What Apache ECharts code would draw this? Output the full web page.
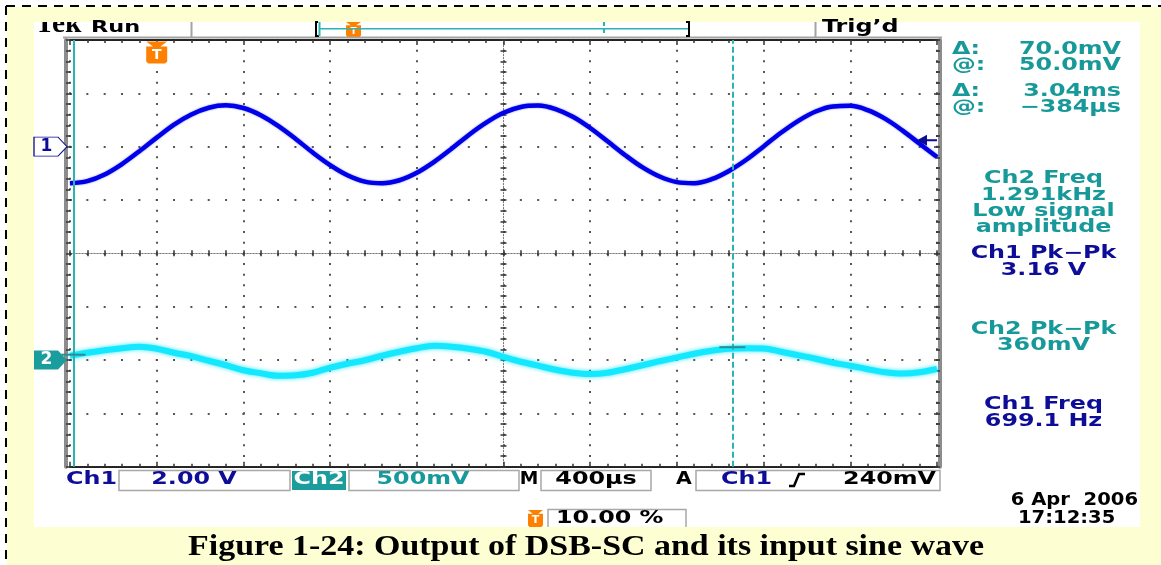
<!DOCTYPE html>
<html>
<head>
<meta charset="utf-8">
<script src="https://cdn.jsdelivr.net/npm/echarts@6/dist/echarts.min.js"></script>
<style>
  html, body { margin: 0; padding: 0; background: #ffffff; }
  #main { width: 1161px; height: 565px; }
</style>
</head>
<body>
<div id="main"></div>
<script>
// Sample instants of the acquisition, in microseconds (400 µs/div, trigger at 10 %)
const timeUs = [-400, -320, -240, -160, -80, 0, 80, 160, 240, 320, 400, 480, 560, 640, 720, 800,
  880, 960, 1040, 1120, 1200, 1280, 1360, 1440, 1520, 1600, 1680, 1760, 1840, 1920, 2000, 2080,
  2160, 2240, 2320, 2400, 2480, 2560, 2640, 2720, 2800, 2880, 2960, 3040, 3120, 3200, 3280, 3360,
  3440, 3520, 3600];

// Ch1: input sine wave, volts (2.00 V/div)
const ch1Volts = [-1.37, -1.29, -1.04, -0.65, -0.17, 0.34, 0.83, 1.21, 1.46, 1.55, 1.45, 1.18,
  0.78, 0.30, -0.22, -0.69, -1.07, -1.31, -1.37, -1.26, -0.98, -0.57, -0.08, 0.44, 0.90, 1.27,
  1.49, 1.54, 1.41, 1.12, 0.70, 0.20, -0.31, -0.77, -1.12, -1.33, -1.37, -1.22, -0.91, -0.49,
  0.01, 0.52, 0.97, 1.32, 1.51, 1.53, 1.37, 1.05, 0.61, 0.11, -0.39];

// Ch2: DSB-SC output, volts (500 mV/div)
const ch2Volts = [0.040, 0.068, 0.092, 0.111, 0.125, 0.106, 0.068, 0.036, -0.007, -0.049, -0.096,
  -0.124, -0.147, -0.143, -0.119, -0.072, -0.035, -0.002, 0.040, 0.078, 0.111, 0.134, 0.125, 0.106,
  0.078, 0.030, -0.016, -0.053, -0.091, -0.119, -0.131, -0.119, -0.086, -0.049, -0.011, 0.024,
  0.059, 0.087, 0.106, 0.111, 0.109, 0.078, 0.045, 0.012, -0.025, -0.053, -0.086, -0.114, -0.126,
  -0.114, -0.084];

// Paired cursors: start time and span, plus the Ch2 levels they read
const cursorStartUs = -384;
const cursorSpanUs = 3040;
const cursorStartV = 0.050;
const cursorDeltaV = 0.070;
const triggerLevelV = 0.240;

// Automatic measurements shown in the side panel
const measureLines = [
  { text: 'Ch2 Freq', ch: 2 }, { text: '1.291kHz', ch: 2 }, { text: 'Low signal', ch: 2 },
  { text: 'amplitude', ch: 2 }, { text: 'Ch1 Pk\u2212Pk', ch: 1 }, { text: '3.16 V', ch: 1 },
  { text: 'Ch2 Pk\u2212Pk', ch: 2 }, { text: '360mV', ch: 2 }, { text: 'Ch1 Freq', ch: 1 },
  { text: '699.1 Hz', ch: 1 }
];
const measureRows = [178.5, 196, 212, 228, 254, 270.5, 329.5, 345.5, 405, 422];

// Vertical / horizontal settings
const ch1Scale = '2.00 V';
const ch2Scale = '500mV';
const timeScale = '400\u00b5s';
const triggerSource = 'Ch1';
const triggerLevelText = (triggerLevelV * 1000).toFixed(0) + 'mV';
const triggerPosText = '10.00 %';
const stampDate = '6 Apr  2006';
const stampTime = '17:12:35';
const captionText = 'Figure 1-24: Output of DSB-SC and its input sine wave';

const NAVY = '#0d0d98';
const TEAL = '#17999a';
const TEAL_FILL = '#1c9d9d';
const CURSOR = '#2ab4b4';
const ORANGE = '#ff8000';
const SCOPE_FONT = '"DejaVu Sans", Verdana, sans-serif';

const cursorEndUs = cursorStartUs + cursorSpanUs;
const cursorEndV = cursorStartV + cursorDeltaV;

function pairs(xs, ys) {
  return xs.map(function (x, i) { return [x, ys[i]]; });
}

function fmtMv(v) { return (v * 1000).toFixed(1) + 'mV'; }
function fmtTime(us) {
  if (Math.abs(us) >= 1000) return (us / 1000).toFixed(2) + 'ms';
  return (us < 0 ? '\u2212' : '') + Math.abs(us).toFixed(0) + '\u00b5s';
}

// scope-style lettering, stretched horizontally like the display font
function scopeText(x, y, text, fill, opt) {
  opt = opt || {};
  return {
    type: 'text', x: x, y: y, scaleX: opt.sx || 1.4, z: opt.z || 20, silent: true,
    style: {
      text: text, fill: fill,
      fontFamily: opt.family || SCOPE_FONT,
      fontWeight: opt.weight || 'bold',
      fontSize: opt.size || 17,
      align: opt.align || 'left',
      verticalAlign: 'middle'
    }
  };
}

// small orange "T" trigger badge
function triggerBadge(cx, top, w, h) {
  return {
    type: 'group', x: cx - w / 2, y: top, z: 20, silent: true,
    children: [
      { type: 'polygon', shape: { points: [[0, 0], [w, 0], [w * 0.68, h * 0.22], [w, h * 0.22], [w, h * 0.9],
        [w * 0.9, h], [w * 0.1, h], [0, h * 0.9], [0, h * 0.22], [w * 0.32, h * 0.22]] },
        style: { fill: ORANGE } },
      { type: 'text', x: w / 2, y: h * 0.62, style: { text: 'T', fill: '#ffffff', fontFamily: SCOPE_FONT,
        fontWeight: 'bold', fontSize: Math.round(h * 0.62), align: 'center', verticalAlign: 'middle' } }
    ]
  };
}

const graphics = [];
// page, frame and screen
graphics.push({ type: 'rect', z: -20, silent: true, shape: { x: 7, y: 7, width: 1154, height: 558 }, style: { fill: '#fefed3' } });
graphics.push({ type: 'rect', z: -19, silent: true, shape: { x: 34, y: 22, width: 1106, height: 505 }, style: { fill: '#ffffff' } });
graphics.push(scopeText(35, 25, 'Tek', '#000000', { family: '"Liberation Serif", serif', size: 28, sx: 1.05, z: -18 }));
graphics.push({ type: 'rect', z: -17, silent: true, shape: { x: 34, y: 7, width: 1106, height: 15 }, style: { fill: '#fefed3' } });
graphics.push({ type: 'line', z: 30, silent: true, shape: { x1: 6, y1: 6, x2: 6, y2: 565 }, style: { stroke: '#000', lineWidth: 2, lineDash: [9, 7] } });
graphics.push({ type: 'line', z: 30, silent: true, shape: { x1: 6, y1: 6, x2: 1161, y2: 6 }, style: { stroke: '#000', lineWidth: 2, lineDash: [9, 7] } });

// status bar
graphics.push({ type: 'line', z: 5, silent: true, shape: { x1: 63, y1: 37.5, x2: 942, y2: 37.5 }, style: { stroke: '#a3a3a3', lineWidth: 2 } });
graphics.push({ type: 'line', z: 5, silent: true, shape: { x1: 191.5, y1: 22, x2: 191.5, y2: 38 }, style: { stroke: '#a3a3a3', lineWidth: 2 } });
graphics.push({ type: 'line', z: 5, silent: true, shape: { x1: 815.5, y1: 22, x2: 815.5, y2: 38 }, style: { stroke: '#a3a3a3', lineWidth: 2 } });
graphics.push(scopeText(91, 28, 'Run', '#000000', { size: 16 }));
graphics.push(scopeText(822, 28, 'Trig\u2019d', '#000000', { size: 17 }));
// record view bracket
graphics.push({ type: 'polyline', z: 6, silent: true, shape: { points: [[318, 22], [316, 22], [316, 36], [319, 36]] }, style: { stroke: '#000', lineWidth: 2, fill: null } });
graphics.push({ type: 'polyline', z: 6, silent: true, shape: { points: [[686, 22], [689, 22], [689, 36], [686, 36]] }, style: { stroke: '#000', lineWidth: 2, fill: null } });
graphics.push({ type: 'line', z: 6, silent: true, shape: { x1: 319.5, y1: 22, x2: 319.5, y2: 36 }, style: { stroke: CURSOR, lineWidth: 2 } });
graphics.push({ type: 'line', z: 6, silent: true, shape: { x1: 320, y1: 28.8, x2: 688, y2: 28.8 }, style: { stroke: CURSOR, lineWidth: 1.5 } });
graphics.push({ type: 'line', z: 6, silent: true, shape: { x1: 604, y1: 22, x2: 604, y2: 34 }, style: { stroke: CURSOR, lineWidth: 2, lineDash: [4, 3] } });
graphics.push(triggerBadge(353.5, 22, 15, 15));

// cursor readouts
const readouts = [
  ['\u0394:', fmtMv(cursorDeltaV), 50],
  ['@:', fmtMv(cursorStartV), 66],
  ['\u0394:', fmtTime(cursorSpanUs), 91.5],
  ['@:', fmtTime(cursorStartUs), 107.5]
];
readouts.forEach(function (r) {
  graphics.push(scopeText(952, r[2], r[0], TEAL));
  graphics.push(scopeText(1121, r[2], r[1], TEAL, { align: 'right' }));
});
measureLines.forEach(function (m, i) {
  graphics.push(scopeText(1043.5, measureRows[i], m.text, m.ch === 1 ? NAVY : TEAL, { align: 'center' }));
});

// bottom settings row
function box(x, y, w, h) {
  return { type: 'rect', z: 6, silent: true, shape: { x: x, y: y, width: w, height: h }, style: { fill: null, stroke: '#a8a8a8', lineWidth: 1.5 } };
}
graphics.push(scopeText(66, 479.5, 'Ch1', NAVY));
graphics.push(box(119, 470.5, 171, 20));
graphics.push(scopeText(194, 480, ch1Scale, NAVY, { align: 'center' }));
graphics.push({ type: 'rect', z: 6, silent: true, shape: { x: 292, y: 471, width: 54, height: 19 }, style: { fill: TEAL_FILL } });
graphics.push(scopeText(319, 480, 'Ch2', '#ffffff', { align: 'center' }));
graphics.push(box(349, 470.5, 170, 20));
graphics.push(scopeText(423, 480, ch2Scale, TEAL, { align: 'center' }));
graphics.push(scopeText(529, 480, 'M', '#000000', { align: 'center', sx: 1.1 }));
graphics.push(box(541, 470.5, 110, 20));
graphics.push(scopeText(596, 480, timeScale, '#000000', { align: 'center' }));
graphics.push(scopeText(684, 480, 'A', '#000000', { align: 'center', sx: 1.2 }));
graphics.push(box(696, 470.5, 244, 20));
graphics.push(scopeText(721, 480, triggerSource, NAVY));
graphics.push({ type: 'polyline', z: 6, silent: true, shape: { points: [[789, 486], [794, 486], [799, 474], [805, 474]] }, style: { stroke: '#000', lineWidth: 2.5, fill: null } });
graphics.push(scopeText(936, 480, triggerLevelText, '#000000', { align: 'right' }));

// trigger position and time stamp
graphics.push(triggerBadge(535.5, 510, 15, 17));
graphics.push(box(548, 509.5, 138, 22));
graphics.push(scopeText(556, 518.5, triggerPosText, '#000000'));
graphics.push(scopeText(1138, 501, stampDate, '#000000', { align: 'right', sx: 1.15 }));
graphics.push(scopeText(1018, 519, stampTime, '#000000', { sx: 1.15 }));
graphics.push({ type: 'rect', z: 7, silent: true, shape: { x: 34, y: 527, width: 1106, height: 12 }, style: { fill: '#fefed3' } });

// caption
graphics.push(scopeText(586, 548, captionText, '#000000', { family: '"Liberation Serif", "Times New Roman", serif', size: 29, sx: 1.17, align: 'center', z: 30 }));

// graticule axes
const tickStyle = { color: '#333333', width: 1.5 };
function timeAxis(position, withGrid) {
  return {
    type: 'value', min: -400, max: 3600, interval: 400, position: position,
    axisLabel: { show: false },
    axisLine: { show: true, onZero: false, lineStyle: { color: '#222222', width: 2, type: [1, 1] } },
    axisTick: { show: true, inside: true, length: 5, lineStyle: tickStyle },
    minorTick: { show: true, splitNumber: 5, length: 3, lineStyle: tickStyle },
    splitLine: { show: withGrid, lineStyle: { color: '#555555', width: 2, type: [2, 8.667], dashOffset: 1 } }
  };
}
function centerAxis(dim, inside) {
  return {
    type: 'value', min: dim === 'x' ? -5 : -4, max: dim === 'x' ? 5 : 4, interval: 1,
    position: dim === 'x' ? 'bottom' : 'left', offset: dim === 'x' ? -213.35 : -433.5,
    axisLabel: { show: false },
    axisLine: { show: true, onZero: false, lineStyle: { color: '#777777', width: 1, type: [1, 2] } },
    axisTick: { show: true, inside: inside, length: 3, lineStyle: tickStyle },
    minorTick: { show: true, splitNumber: 5, length: 3, lineStyle: tickStyle },
    splitLine: { show: false }
  };
}

const option = {
  animation: false,
  backgroundColor: '#ffffff',
  grid: { left: 70, top: 40, width: 867, height: 426.7, containLabel: false },
  xAxis: [
    timeAxis('bottom', true),
    timeAxis('top', false),
    centerAxis('x', true),
    centerAxis('x', false)
  ],
  yAxis: [
    {
      type: 'value', min: -12, max: 4, interval: 2, position: 'left', offset: 4,
      axisLabel: { show: false },
      axisLine: { show: true, onZero: false, lineStyle: { color: '#8c8c8c', width: 4 } },
      axisTick: { show: true, inside: true, length: 6, lineStyle: tickStyle },
      minorTick: { show: true, splitNumber: 5, length: 4, lineStyle: tickStyle },
      splitLine: { show: true, lineStyle: { color: '#555555', width: 2, type: [2, 15.34], dashOffset: 1 } }
    },
    {
      type: 'value', min: -1, max: 3, interval: 0.5, position: 'right', offset: 3,
      axisLabel: { show: false },
      axisLine: { show: true, onZero: false, lineStyle: { color: '#8c8c8c', width: 4 } },
      axisTick: { show: true, inside: true, length: 6, lineStyle: tickStyle },
      minorTick: { show: true, splitNumber: 5, length: 4, lineStyle: tickStyle },
      splitLine: { show: false }
    },
    centerAxis('y', true),
    centerAxis('y', false)
  ],
  series: [
    {
      name: 'Ch2', type: 'line', xAxisIndex: 0, yAxisIndex: 1, z: 3,
      data: pairs(timeUs, ch2Volts), showSymbol: false, smooth: 0.35,
      lineStyle: { color: '#14e8ff', width: 6, shadowBlur: 4, shadowColor: 'rgba(0,225,255,0.8)' },
      markLine: {
        silent: true, symbol: ['none', 'none'], label: { show: false }, animation: false,
        data: [
          { xAxis: cursorStartUs, lineStyle: { color: CURSOR, width: 2, type: 'solid' } },
          { xAxis: cursorEndUs, lineStyle: { color: CURSOR, width: 2, type: [6, 3] } }
        ]
      },
      markPoint: {
        silent: true, animation: false,
        data: [
          { coord: [timeUs[0], 0], symbol: 'path://M0,0 L24,0 L33,9.5 L24,19 L0,19 Z', symbolSize: [33, 19],
            symbolOffset: [-19.5, 0], itemStyle: { color: TEAL_FILL },
            label: { show: true, formatter: '2', color: '#ffffff', fontFamily: SCOPE_FONT, fontWeight: 'bold', fontSize: 17, offset: [-4, 0] } },
          { coord: [cursorStartUs, cursorStartV], symbol: 'rect', symbolSize: [24, 2], itemStyle: { color: '#2a8e8e' }, label: { show: false } },
          { coord: [cursorEndUs, cursorEndV], symbol: 'rect', symbolSize: [26, 2], itemStyle: { color: '#2a8e8e' }, label: { show: false } }
        ]
      }
    },
    {
      name: 'Ch1', type: 'line', xAxisIndex: 0, yAxisIndex: 0, z: 4,
      data: pairs(timeUs, ch1Volts), showSymbol: false, smooth: 0.35,
      lineStyle: { color: '#0000e8', width: 4.5, shadowBlur: 2, shadowColor: 'rgba(70,70,255,0.7)' },
      markPoint: {
        silent: true, animation: false,
        data: [
          { coord: [timeUs[0], 0], symbol: 'path://M0,0 L24,0 L33,9.5 L24,19 L0,19 Z', symbolSize: [33, 19],
            symbolOffset: [-19.5, 0], itemStyle: { color: '#ffffff', borderColor: NAVY, borderWidth: 1 },
            label: { show: true, formatter: '1', color: NAVY, fontFamily: SCOPE_FONT, fontWeight: 'bold', fontSize: 17, offset: [-4, 0] } },
          { coord: [timeUs[timeUs.length - 1], triggerLevelV], symbol: 'path://M0,5 L10,0 L10,4 L20,4 L20,6 L10,6 L10,10 Z',
            symbolSize: [20, 11], symbolOffset: [-10, 0], itemStyle: { color: NAVY }, label: { show: false } },
          { coord: [0, 4], symbol: 'path://M0,0 L20,0 L13.5,5 L20,5 L20,20 L18,22 L2,22 L0,20 L0,5 L6.5,5 Z',
            symbolSize: [21, 22], symbolOffset: [0, 12.5], itemStyle: { color: ORANGE },
            label: { show: true, formatter: 'T', color: '#ffffff', fontFamily: SCOPE_FONT, fontWeight: 'bold', fontSize: 14, offset: [0, 3] } }
        ]
      }
    }
  ],
  graphic: { elements: graphics }
};

const chart = echarts.init(document.getElementById('main'));
chart.setOption(option);
</script>
</body>
</html>
